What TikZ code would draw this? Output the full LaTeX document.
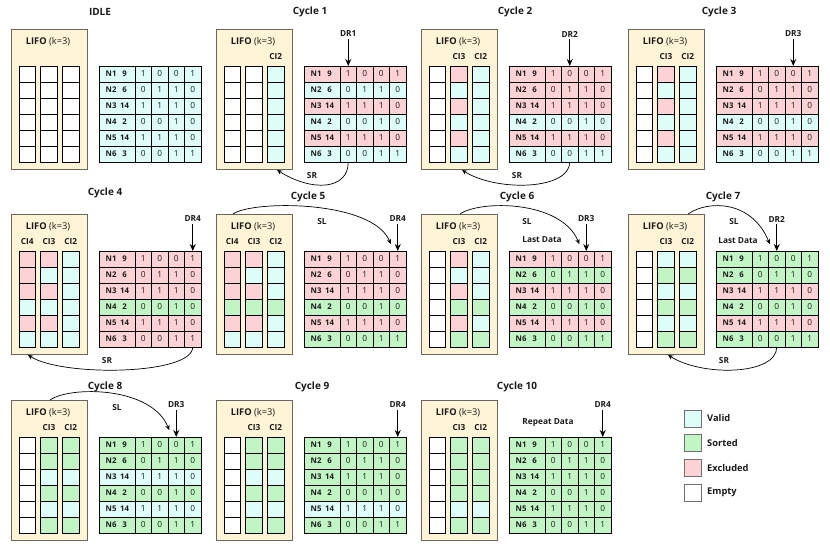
\documentclass[tikz,border=0pt]{standalone}
\usepackage{fontspec}
\setmainfont{Open Sans}
\usetikzlibrary{arrows.meta,calc}

\definecolor{cV}{HTML}{DCFDF8}
\definecolor{cS}{HTML}{C1F5C4}
\definecolor{cE}{HTML}{FDD2D4}
\definecolor{cW}{HTML}{FFFFFF}
\definecolor{lifofill}{HTML}{FFF4D6}
\definecolor{lifoline}{HTML}{6A665E}
\definecolor{txt}{HTML}{1A1A1A}
\definecolor{legline}{HTML}{707070}

\tikzset{
  cell/.style={draw=black,line width=0.8pt,minimum width=16.5pt,minimum height=16pt,inner sep=0pt,outer sep=0pt},
  lcell/.style={cell,minimum width=16.7pt},
  labcell/.style={cell,minimum width=36pt},
  bit/.style={font=\fontsize{8.3}{9}\selectfont,text=txt},
  nlab/.style={inner sep=0pt,font=\fontsize{7.8}{9}\selectfont\bfseries,text=txt},
  ttl/.style={inner sep=1pt,font=\fontsize{10}{11}\selectfont\bfseries,text=txt},
  lifobox/.style={draw=lifoline,fill=lifofill,line width=0.8pt,minimum width=76pt,minimum height=140pt,inner sep=0pt},
  lifot/.style={inner sep=0pt,font=\fontsize{9.3}{10}\selectfont,text=txt},
  cil/.style={inner sep=0pt,font=\fontsize{8.3}{9}\selectfont\bfseries,text=txt},
  smalll/.style={inner sep=1pt,font=\fontsize{8.3}{9}\selectfont\bfseries,text=txt},
  drarrow/.style={line width=1.3pt,-{Stealth[length=7pt,width=6pt]},shorten <=1pt},
  arcarrow/.style={line width=0.7pt,-{Stealth[length=5pt,width=4.5pt]}},
  legbox/.style={draw=legline,line width=0.9pt,minimum width=17pt,minimum height=17pt,inner sep=0pt},
  legt/.style={inner sep=0pt,font=\fontsize{9.3}{10}\selectfont\bfseries,text=txt},
}

\newcommand\pBase[4]{%
  \node[ttl] (#1-title) at (#3,#4) {#2};
  \node[lifobox] (#1-lifo) at (49,99) {};
  \node[lifot] (#1-lifot) at (48,42) {\textbf{LIFO} (k=3)};
}
\newcommand\pCol[3]{%
  \foreach \c [count=\r] in {#3}{%
    \node[lcell,fill=c\c] (#1-L#2-\r) at ({27.3+21.7*(#2-1)},{58+16*\r}) {};
  }%
}
\newcommand\pCI[3]{%
  \node[cil] (#1-ci#2) at ({27.3+21.7*(#2-1)},57) {#3};
}
\newcommand\pTab[7]{%
  \foreach \v/\ba/\bb/\bc/\bd/\c [count=\r] in {9/1/0/0/1/#2,6/0/1/1/0/#3,14/1/1/1/0/#4,2/0/0/1/0/#5,14/1/1/1/0/#6,3/0/0/1/1/#7}{%
    \node[labcell,fill=c\c] (#1-T\r-0) at (117,{58+16*\r}) {};
    \node[nlab,anchor=west] (#1-N\r) at (105.5,{58+16*\r}) {N\r};
    \node[nlab] (#1-V\r) at (124.5,{58+16*\r}) {\v};
    \foreach \b [count=\j] in {\ba,\bb,\bc,\bd}{%
      \node[cell,fill=c\c,bit] (#1-T\r-\j) at ({126.75+16.5*\j},{58+16*\r}) {\b};
    }%
  }%
}
\newcommand\pDR[3]{%
  \node[smalll] (#1-dr) at ({126.75+16.5*#2},34) {#3};
  \draw[drarrow] (#1-dr) -- (#1-T1-#2);
}
\newcommand\pSR[3]{%
  \coordinate (#1-srend) at (#3,170);
  \draw[arcarrow] (#1-T6-#2.south) .. controls +(0,28) and +(35,22) .. (#1-srend);
  \node[smalll] (#1-srl) at (107,176) {SR};
}
\newcommand\pSL[3]{%
  \coordinate (#1-slst) at (#2,29);
  \coordinate (#1-slend) at ({126.75+16.5*#3-7},59);
  \draw[arcarrow] (#1-slst) .. controls +(20,-14) and +(-18,-44) .. (#1-slend);
  \node[smalll] (#1-sll) at (117,37) {SL};
}

\begin{document}
\begin{tikzpicture}[x=1pt,y=-1pt]
\useasboundingbox (0,0) rectangle (830,548);

% ---------- IDLE
\begin{scope}
\pBase{idle}{IDLE}{100}{12}
\pCol{idle}{1}{W,W,W,W,W,W}
\pCol{idle}{2}{W,W,W,W,W,W}
\pCol{idle}{3}{W,W,W,W,W,W}
\pTab{idle}{V}{V}{V}{V}{V}{V}
\end{scope}

% ---------- Cycle 1
\begin{scope}[shift={(205,0)}]
\pBase{c1}{Cycle 1}{105}{12}
\pCol{c1}{1}{W,W,W,W,W,W}
\pCol{c1}{2}{W,W,W,W,W,W}
\pCol{c1}{3}{V,V,V,V,V,V}
\pCI{c1}{3}{CI2}
\pTab{c1}{E}{V}{E}{V}{E}{V}
\pDR{c1}{1}{DR1}
\pSR{c1}{1}{72}
\end{scope}

% ---------- Cycle 2
\begin{scope}[shift={(410,0)}]
\pBase{c2}{Cycle 2}{105}{12}
\pCol{c2}{1}{W,W,W,W,W,W}
\pCol{c2}{2}{E,V,E,V,E,V}
\pCol{c2}{3}{V,V,V,V,V,V}
\pCI{c2}{2}{CI3}
\pCI{c2}{3}{CI2}
\pTab{c2}{E}{E}{E}{V}{E}{V}
\pDR{c2}{2}{DR2}
\pSR{c2}{2}{52}
\end{scope}

% ---------- Cycle 3
\begin{scope}[shift={(617,0)}]
\pBase{c3}{Cycle 3}{102}{12}
\pCol{c3}{1}{W,W,W,W,W,W}
\pCol{c3}{2}{E,V,E,V,E,V}
\pCol{c3}{3}{V,V,V,V,V,V}
\pCI{c3}{2}{CI3}
\pCI{c3}{3}{CI2}
\pTab{c3}{E}{E}{E}{V}{E}{V}
\pDR{c3}{3}{DR3}
\end{scope}

% ---------- Cycle 4
\begin{scope}[shift={(0,185)}]
\pBase{c4}{Cycle 4}{105}{8}
\pCol{c4}{1}{E,E,E,V,E,V}
\pCol{c4}{2}{E,V,E,V,E,V}
\pCol{c4}{3}{V,V,V,V,V,V}
\pCI{c4}{1}{CI4}
\pCI{c4}{2}{CI3}
\pCI{c4}{3}{CI2}
\pTab{c4}{E}{E}{E}{S}{E}{E}
\pDR{c4}{4}{DR4}
\pSR{c4}{4}{28}
\end{scope}

% ---------- Cycle 5
\begin{scope}[shift={(205,185)}]
\pBase{c5}{Cycle 5}{103}{12}
\pCol{c5}{1}{E,E,E,S,E,V}
\pCol{c5}{2}{E,V,E,S,E,V}
\pCol{c5}{3}{V,V,V,S,V,V}
\pCI{c5}{1}{CI4}
\pCI{c5}{2}{CI3}
\pCI{c5}{3}{CI2}
\pTab{c5}{E}{E}{E}{S}{E}{S}
\pDR{c5}{4}{DR4}
\pSL{c5}{28}{4}
\end{scope}

% ---------- Cycle 6
\begin{scope}[shift={(410,185)}]
\pBase{c6}{Cycle 6}{107}{12}
\pCol{c6}{1}{W,W,W,W,W,W}
\pCol{c6}{2}{E,V,E,S,E,S}
\pCol{c6}{3}{V,V,V,S,V,S}
\pCI{c6}{2}{CI3}
\pCI{c6}{3}{CI2}
\pTab{c6}{E}{S}{E}{S}{E}{S}
\pDR{c6}{3}{DR3}
\pSL{c6}{50}{3}
\node[smalll] (c6-last) at (132,55) {Last Data};
\end{scope}

% ---------- Cycle 7
\begin{scope}[shift={(617,185)}]
\pBase{c7}{Cycle 7}{106}{12}
\pCol{c7}{1}{W,W,W,W,W,W}
\pCol{c7}{2}{V,S,V,S,V,S}
\pCol{c7}{3}{V,S,V,S,V,S}
\pCI{c7}{2}{CI3}
\pCI{c7}{3}{CI2}
\pTab{c7}{S}{S}{E}{S}{E}{S}
\pDR{c7}{2}{DR2}
\pSL{c7}{71}{2}
\node[smalll] (c7-last) at (121,56) {Last Data};
\pSR{c7}{2}{51}
\end{scope}

% ---------- Cycle 8
\begin{scope}[shift={(0,371)}]
\pBase{c8}{Cycle 8}{105}{16}
\pCol{c8}{1}{W,W,W,W,W,W}
\pCol{c8}{2}{S,S,V,S,V,S}
\pCol{c8}{3}{S,S,V,S,V,S}
\pCI{c8}{2}{CI3}
\pCI{c8}{3}{CI2}
\pTab{c8}{S}{S}{V}{S}{V}{S}
\pDR{c8}{3}{DR3}
\pSL{c8}{50}{3}
\end{scope}

% ---------- Cycle 9
\begin{scope}[shift={(205,371)}]
\pBase{c9}{Cycle 9}{107}{16}
\pCol{c9}{1}{W,W,W,W,W,W}
\pCol{c9}{2}{S,S,V,S,V,S}
\pCol{c9}{3}{S,S,V,S,V,S}
\pCI{c9}{2}{CI3}
\pCI{c9}{3}{CI2}
\pTab{c9}{S}{S}{S}{S}{V}{S}
\pDR{c9}{4}{DR4}
\end{scope}

% ---------- Cycle 10
\begin{scope}[shift={(410,371)}]
\pBase{c10}{Cycle 10}{107}{16}
\pCol{c10}{1}{W,W,W,W,W,W}
\pCol{c10}{2}{S,S,S,S,V,S}
\pCol{c10}{3}{S,S,S,S,V,S}
\pCI{c10}{2}{CI3}
\pCI{c10}{3}{CI2}
\pTab{c10}{S}{S}{S}{S}{S}{S}
\pDR{c10}{4}{DR4}
\node[smalll] (c10-rep) at (138,52) {Repeat Data};
\end{scope}

% ---------- Legend
\foreach \c/\t [count=\i] in {V/Valid,S/Sorted,E/Excluded,W/Empty}{%
  \node[legbox,fill=c\c] (leg\i) at (692.5,{418.5+24.67*(\i-1)}) {};
  \node[legt,anchor=west] (legt\i) at (707,{418.5+24.67*(\i-1)}) {\t};
}
\end{tikzpicture}
\end{document}
